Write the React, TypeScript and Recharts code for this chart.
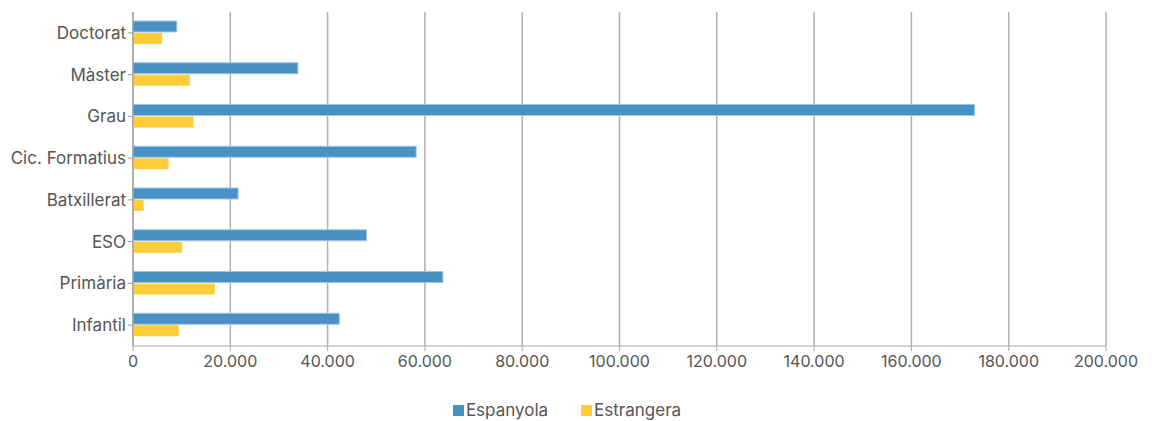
import React from "react";
import {
  BarChart,
  Bar,
  XAxis,
  YAxis,
  CartesianGrid,
  Legend,
} from "recharts";

document.body.style.margin = "0";

const categories = [
  "Doctorat",
  "Màster",
  "Grau",
  "Cic. Formatius",
  "Batxillerat",
  "ESO",
  "Primària",
  "Infantil",
];
const espanyola = [9000, 33900, 173000, 58200, 21600, 48000, 63700, 42400];
const estrangera = [6000, 11700, 12400, 7300, 2200, 10100, 16800, 9400];
const xTicks = [0, 20000, 40000, 60000, 80000, 100000, 120000, 140000, 160000, 180000, 200000];

const BLUE = "#4a91c3";
const YELLOW = "#ffcd3a";
const FONT = "Inter, 'Noto Sans', sans-serif";

const data = categories.map((name, i) => ({
  name,
  espanyola: espanyola[i],
  estrangera: estrangera[i],
}));

const fmt = (v: number) => String(v).replace(/\B(?=(\d{3})+(?!\d))/g, ".");

function LegendContent() {
  const items = [
    { label: "Espanyola", color: BLUE },
    { label: "Estrangera", color: YELLOW },
  ];
  return (
    <div
      style={{
        display: "flex",
        justifyContent: "center",
        gap: 33,
        paddingRight: 18,
        fontFamily: FONT,
        fontSize: 17,
        lineHeight: "19px",
        color: "#555",
      }}
    >
      {items.map((it) => (
        <div key={it.label} style={{ display: "flex", alignItems: "center" }}>
          <span
            style={{
              display: "inline-block",
              width: 11,
              height: 11,
              background: it.color,
              marginRight: 2,
            }}
          />
          <span>{it.label}</span>
        </div>
      ))}
    </div>
  );
}

export default function App() {
  return (
    <div style={{ width: 1152, height: 421, overflow: "hidden" }}>
      <BarChart
        width={1152}
        height={421}
        data={data}
        layout="vertical"
        margin={{ top: 12, right: 46, left: 0, bottom: 26 }}
        barSize={11}
        barGap={1}
      >
        <CartesianGrid horizontal={false} stroke="#b0b0b0" strokeWidth={1.5} />
        <XAxis
          type="number"
          domain={[0, 200000]}
          ticks={xTicks}
          tickFormatter={fmt}
          interval={0}
          height={30}
          stroke="#aaa"
          tickSize={5}
          tickMargin={5}
          tick={{ fill: "#555", fontSize: 16, fontFamily: FONT }}
        />
        <YAxis
          type="category"
          dataKey="name"
          width={133}
          stroke="#999"
          tickSize={5}
          tickMargin={2}
          tick={{ fill: "#555", fontSize: 17, fontFamily: FONT }}
          tickLine={{ stroke: "#999" }}
        />
        <Legend
          content={<LegendContent />}
          wrapperStyle={{ position: "absolute", top: 401, left: 0, width: 1152 }}
        />
        <Bar
          dataKey="espanyola"
          name="Espanyola"
          fill={BLUE}
          stroke="#9cc6e6"
          strokeWidth={1}
          isAnimationActive={false}
        />
        <Bar
          dataKey="estrangera"
          name="Estrangera"
          fill={YELLOW}
          isAnimationActive={false}
        />
      </BarChart>
    </div>
  );
}
